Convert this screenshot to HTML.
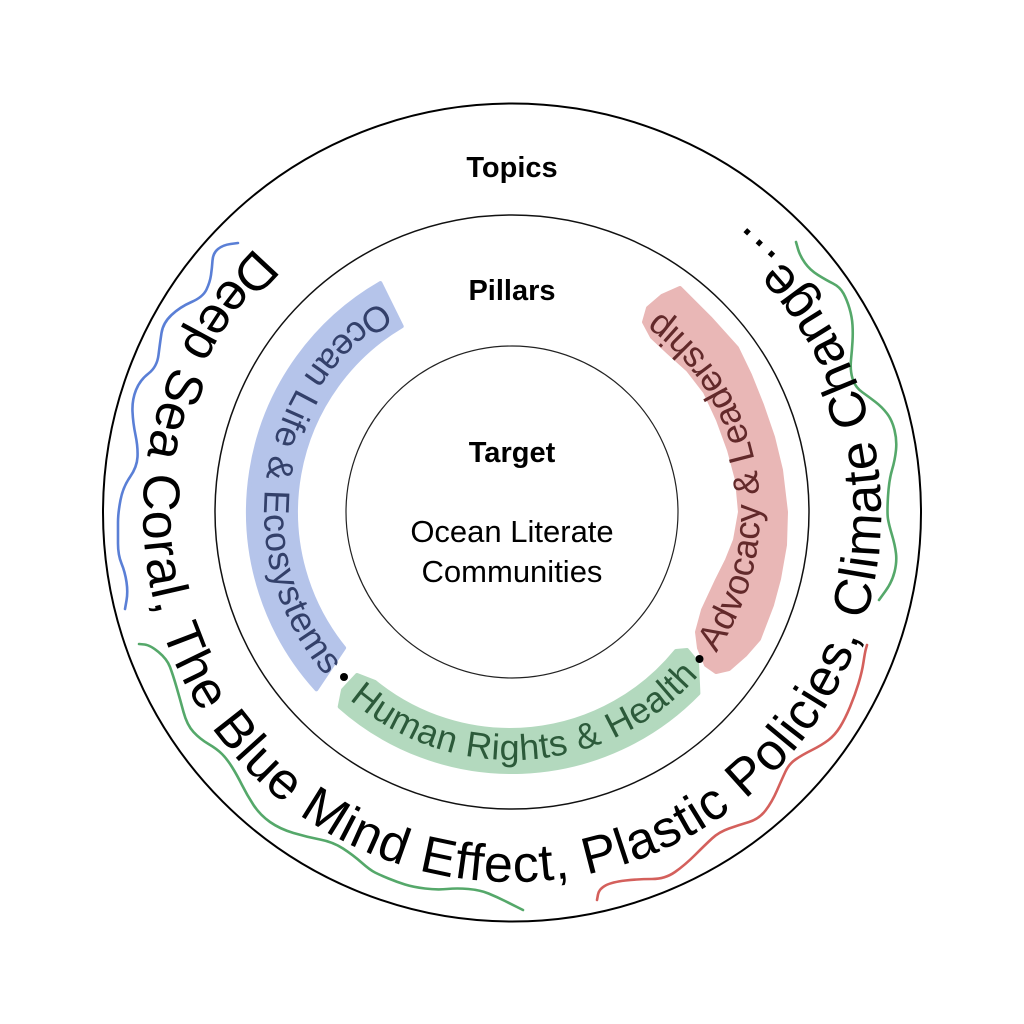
<!DOCTYPE html>
<html>
<head>
<meta charset="utf-8">
<style>
  html, body { margin: 0; padding: 0; background: #ffffff; }
  body { width: 1024px; height: 1024px; overflow: hidden; }
  svg { display: block; }
  .sans { font-family: "Liberation Sans", Arial, sans-serif; }
</style>
</head>
<body>
<svg width="1024" height="1024" viewBox="0 0 1024 1024" xmlns="http://www.w3.org/2000/svg">
  <rect width="1024" height="1024" fill="#ffffff"/>

  <defs>
    <path id="outerArc" d="M 255.67 247.56 A 369 369 0 1 0 696.5 193.44"/>
    <path id="blueArc" d="M 380.58 301.68 A 248 248 0 0 0 352.59 701.98"/>
    <path id="greenArc" d="M 349.30 699.17 A 248 248 0 0 0 726.77 636"/>
    <path id="redArc" d="M 716.14 652.82 A 248 248 0 0 0 616.81 287.24"/>
  </defs>

  <!-- circles -->
  <circle cx="512" cy="512.5" r="409" fill="none" stroke="#000" stroke-width="2"/>
  <circle cx="512" cy="512" r="297" fill="none" stroke="#111" stroke-width="1.5"/>
  <circle cx="512" cy="512" r="166" fill="none" stroke="#222" stroke-width="1.2"/>

  <!-- pillar bands -->
  <path d="M380.4,283.1 A264,264 0 0 0 316.4,689.3 L344.1,647.9 A216,216 0 0 1 401.7,326.3 Z"
        fill="#b5c4ea" stroke="#b5c4ea" stroke-width="4" stroke-linejoin="round"/>
  <path d="M339.7,706.7 A260,260 0 0 0 698.4,693.3 L697,662 L687,650 L676,651 A214,214 0 0 1 375,682 L357,675 L343,690 Z"
        fill="#b3d9be" stroke="#b3d9be" stroke-width="4" stroke-linejoin="round"/>
  <path d="M680,288 L710,318 L737,348 L750,375 L762,405 L773,437 L781,470 L786,512 L785,545 L779,579 L772,605 L759,639 L745,655 L729,669 L716,672 L706,665 L699,648 L697,632 L703,610 L717,580 L727,560 L735,540 L740,512 L737,480 L729,450 L718,420 L705,392 L688,370 L668,352 L652,337 L644,322 L648,308 L662,296 Z"
        fill="#e9b7b6" stroke="#e9b7b6" stroke-width="4" stroke-linejoin="round"/>

  <!-- separator dots -->
  <circle cx="344" cy="677" r="4" fill="#000"/>
  <circle cx="699.5" cy="659" r="4" fill="#000"/>

  <!-- wavy lines -->
  <path fill="none" stroke="#5a7fd6" stroke-width="2.6" stroke-linecap="round"
    d="M238,243 L230.5,244 Q223,245 218,249 Q213,253 212.5,260.5 Q212,268 211,275 Q210,282 206.5,289.5 Q203,297 191.5,302 Q180,307 171.5,315 Q163,323 161.5,333 Q160,343 158.5,355 Q157,367 148.5,373.5 Q140,380 136,390 Q132,400 132.5,411.5 Q133,423 135.5,435 Q138,447 137.5,457 Q137,467 130,477 Q123,487 120.5,500 Q118,513 118,522.5 Q118,532 118,543.5 Q118,555 121.5,563.5 Q125,572 126.5,582 Q128,592 126.5,600.5 L125,609"/>
  <path fill="none" stroke="#55a86a" stroke-width="2.6" stroke-linecap="round"
    d="M796,242 L798,249 Q800,256 805,263 Q810,270 818,275 Q826,280 833,283.5 Q840,287 843.5,293.5 Q847,300 849.5,308.5 Q852,317 852.5,325 Q853,333 852.5,341.5 Q852,350 851,360 Q850,370 852.5,378.5 Q855,387 862,392 Q869,397 875.5,402 Q882,407 887,413.5 Q892,420 894.5,430 Q897,440 896,450 Q895,460 892,470 Q889,480 888,496.5 Q887,513 888,519 Q889,525 892,535 Q895,545 896,553.5 Q897,562 894.5,572 Q892,582 885.5,591 L879,600"/>
  <path fill="none" stroke="#55a86a" stroke-width="2.6" stroke-linecap="round"
    d="M139,644 L144.5,644.5 Q150,645 158.5,652 Q167,659 170,667 Q173,675 176.5,687 Q180,699 183.5,712 Q187,725 193.5,732 Q200,739 208.5,744 Q217,749 222,754 Q227,759 232,767 Q237,775 242,785 Q247,795 253.5,805 Q260,815 270,822 Q280,829 293.5,833 Q307,837 320,839.5 Q333,842 343,848.5 Q353,855 361.5,862.5 Q370,870 375,872.5 Q380,875 388.5,878.5 Q397,882 405,884.5 Q413,887 425,888.5 Q437,890 447,889 Q457,888 468.5,889 Q480,890 488.5,893.5 Q497,897 505,901 Q513,905 518,907.5 L523,910"/>
  <path fill="none" stroke="#d4605c" stroke-width="2.6" stroke-linecap="round"
    d="M597,900 L598,894.5 Q599,889 605.5,885.5 Q612,882 625.5,880.5 Q639,879 652,879 Q665,879 675,872 Q685,865 695,855 Q705,845 712,838.5 Q719,832 729,828.5 Q739,825 749,822 Q759,819 765.5,810.5 Q772,802 777,790.5 Q782,779 785.5,771.5 Q789,764 795.5,759.5 Q802,755 812,750 Q822,745 828.5,740 Q835,735 840,727 Q845,719 850,707 Q855,695 858.5,683.5 Q862,672 863.5,662 Q865,652 866,648.5 L867,645"/>

  <!-- center labels -->
  <text class="sans" x="512" y="177" text-anchor="middle" font-size="29" font-weight="bold" fill="#000">Topics</text>
  <text class="sans" x="512" y="300" text-anchor="middle" font-size="29" font-weight="bold" fill="#000">Pillars</text>
  <text class="sans" x="512" y="462" text-anchor="middle" font-size="29" font-weight="bold" fill="#000">Target</text>
  <text class="sans" x="512" y="542" text-anchor="middle" font-size="31" fill="#000">Ocean Literate</text>
  <text class="sans" x="512" y="582" text-anchor="middle" font-size="31" fill="#000">Communities</text>

  <!-- outer curved text -->
  <text class="sans" font-size="52" fill="#000" letter-spacing="1.1">
    <textPath href="#outerArc" startOffset="0">Deep Sea Coral, The Blue Mind Effect, Plastic Policies, Climate Change…</textPath>
  </text>

  <!-- pillar curved texts -->
  <text class="sans" font-size="36" fill="#33406a" letter-spacing="0.8">
    <textPath href="#blueArc" startOffset="0">Ocean Life &amp; Ecosystems</textPath>
  </text>
  <text class="sans" font-size="36" fill="#2c5a3a" letter-spacing="0.6">
    <textPath href="#greenArc" startOffset="0">Human Rights &amp; Health</textPath>
  </text>
  <text class="sans" font-size="36" fill="#62292a" letter-spacing="0.2">
    <textPath href="#redArc" startOffset="0">Advocacy &amp; Leadership</textPath>
  </text>
</svg>
</body>
</html>
